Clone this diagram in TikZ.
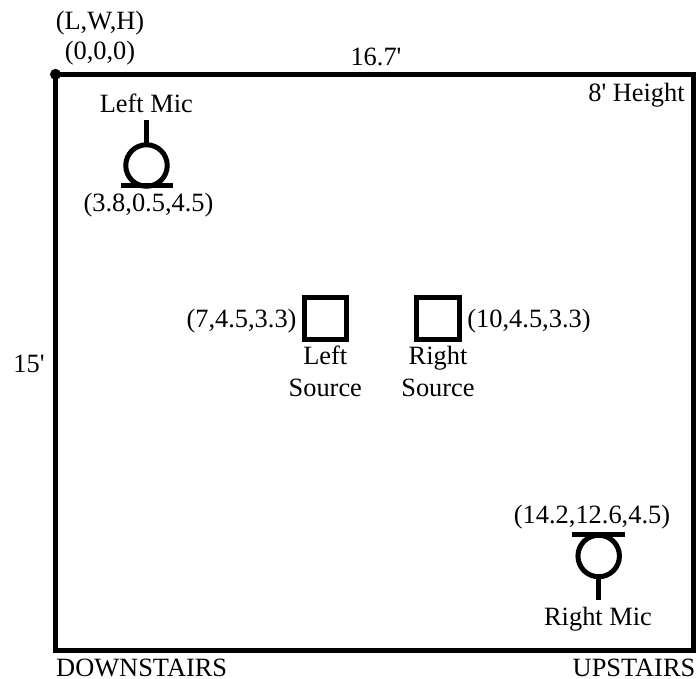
\documentclass[tikz,border=0pt]{standalone}
\usepackage{fontspec}
\newfontfamily\plainrm{Liberation Serif}
\tikzset{
  lbl/.style={inner sep=0pt,anchor=base,font=\plainrm\fontsize{26.4}{31.7}\selectfont,align=center},
  heavy/.style={draw=black,line width=5pt},
  srcbox/.style={draw=black,line width=5pt,minimum size=42.5pt,inner sep=0pt,outer sep=0pt,fill=none},
  mic/.style={circle,draw=black,line width=5pt,minimum size=41.5pt,inner sep=0pt,outer sep=0pt}
}
\begin{document}
\begin{tikzpicture}[x=1pt,y=-1pt]
\useasboundingbox (0,0) rectangle (696,679);
\coordinate (tl) at (55.5,74.3);
\coordinate (br) at (693.5,650);
\draw[heavy] (tl) rectangle (br);
\fill (tl) circle (5.5);
\node[lbl] (lwh) at (100,29.5) {(L,W,H)};
\node[lbl] (orig) at (100,60) {(0,0,0)};
\node[lbl] (len) at (376,66) {16.7'};
\node[lbl] (ht) at (636.5,102) {8' Height};
\node[lbl] (wid) at (29,372.5) {15'};
\node[lbl] (lm) at (146.3,113) {Left Mic};
\node[mic] (c1) at (146.5,165.5) {};
\coordinate (s1) at (146.5,120);
\coordinate (b1a) at (121,186);
\coordinate (b1b) at (173,186);
\draw[heavy] (s1) -- (c1.north);
\draw[heavy] (b1a) -- (b1b);
\node[lbl] (lmc) at (148.5,211.5) {(3.8,0.5,4.5)};
\node[srcbox] (ls) at (325.3,318.3) {};
\node[srcbox] (rs) at (438,318.3) {};
\node[lbl] (lsc) at (241.5,327) {(7,4.5,3.3)};
\node[lbl] (rsc) at (529,327) {(10,4.5,3.3)};
\node[lbl] (lst) at (325.3,396) {Left\\Source};
\node[lbl] (rst) at (438,396) {Right\\Source};
\node[lbl] (rmc) at (592,523.2) {(14.2,12.6,4.5)};
\node[mic] (c2) at (598.7,556) {};
\coordinate (b2a) at (572,534);
\coordinate (b2b) at (624.5,534);
\coordinate (s2) at (598.7,600);
\draw[heavy] (b2a) -- (b2b);
\draw[heavy] (c2.south) -- (s2);
\node[lbl] (rm) at (598,625.3) {Right Mic};
\node[lbl,anchor=base west] (ds) at (56,676) {DOWNSTAIRS};
\node[lbl,anchor=base east] (us) at (695.5,676) {UPSTAIRS};
\end{tikzpicture}
\end{document}
